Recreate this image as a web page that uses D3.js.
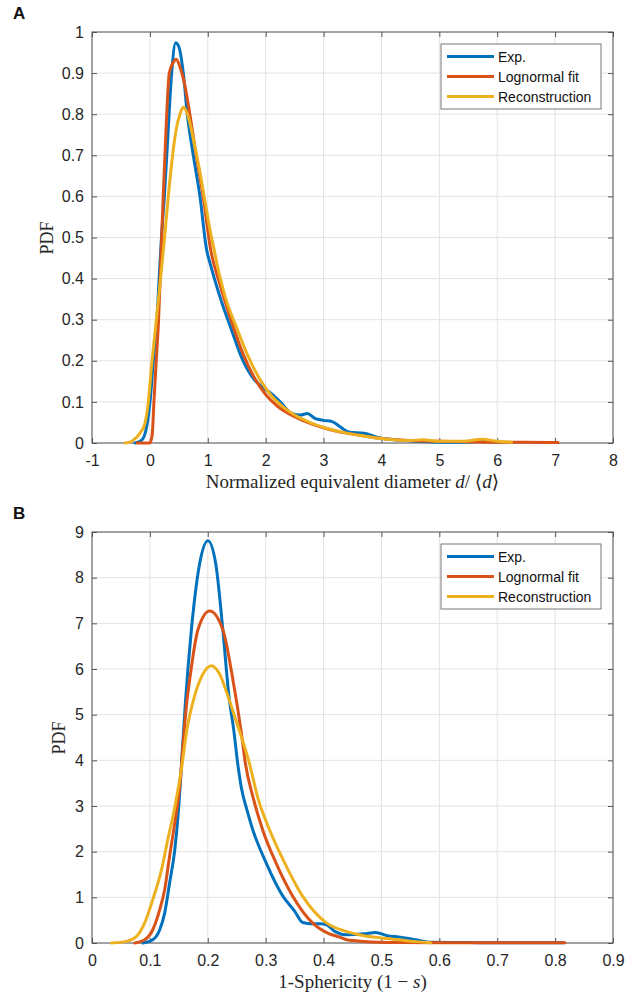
<!DOCTYPE html>
<html>
<head>
<meta charset="utf-8">
<script src="https://cdn.jsdelivr.net/npm/d3@7"></script>
<style>
body { margin: 0; background: #fff; }
</style>
</head>
<body>
<div id="chart"></div>
<script>
// ---- data ----
var seriesNames = ['Exp.', 'Lognormal fit', 'Reconstruction'];

// panel A : normalized equivalent diameter
var aTicksX = [-1, 0, 1, 2, 3, 4, 5, 6, 7, 8];
var aTicksY = [0, 0.1, 0.2, 0.3, 0.4, 0.5, 0.6, 0.7, 0.8, 0.9, 1];

var aExpX = [-0.257, -0.14, -0.055, 0.002, 0.06, 0.117, 0.16, 0.2, 0.25, 0.30, 0.376, 0.445, 0.50, 0.577, 0.646, 0.75, 0.865, 0.98, 1.04, 1.21, 1.41, 1.61, 1.8, 1.95, 2.1, 2.25, 2.45, 2.6, 2.72, 2.85, 3.0, 3.15, 3.3, 3.45, 3.7, 3.95, 4.3, 4.65, 5.0, 5.4, 5.8, 6.0];
var aExpY = [0, 0.007, 0.04, 0.1, 0.2, 0.29, 0.4, 0.5, 0.6, 0.72, 0.9, 0.974, 0.964, 0.9, 0.8, 0.7, 0.6, 0.47, 0.437, 0.356, 0.275, 0.2, 0.155, 0.135, 0.12, 0.1, 0.072, 0.068, 0.072, 0.06, 0.055, 0.052, 0.038, 0.026, 0.024, 0.013, 0.007, 0.004, 0.002, 0.002, 0.005, 0.002];

var aFitX = [-0.22, 0.0, 0.04, 0.07, 0.11, 0.15, 0.19, 0.23, 0.278, 0.335, 0.40, 0.456, 0.52, 0.59, 0.69, 0.80, 0.92, 1.05, 1.2, 1.4, 1.6, 1.8, 2.0, 2.2, 2.5, 2.8, 3.1, 3.4, 3.7, 4.0, 4.5, 5.0, 5.5, 6.0, 6.5, 7.05];
var aFitY = [0, 0, 0.02, 0.1, 0.2, 0.3, 0.45, 0.6, 0.76, 0.9, 0.925, 0.934, 0.915, 0.88, 0.8, 0.7, 0.6, 0.47, 0.39, 0.3, 0.22, 0.16, 0.118, 0.09, 0.064, 0.046, 0.033, 0.024, 0.017, 0.011, 0.006, 0.004, 0.003, 0.002, 0.002, 0.001];

var aRecX = [-0.43, -0.35, -0.287, -0.17, -0.085, -0.027, 0.03, 0.09, 0.17, 0.26, 0.318, 0.376, 0.45, 0.52, 0.577, 0.65, 0.75, 0.85, 0.95, 1.05, 1.11, 1.2, 1.3, 1.5, 1.7, 1.9, 2.1, 2.3, 2.5, 2.8, 3.1, 3.4, 3.7, 4.0, 4.5, 4.7, 5.0, 5.4, 5.75, 6.0, 6.25];
var aRecY = [0, 0.002, 0.007, 0.024, 0.048, 0.1, 0.19, 0.27, 0.38, 0.51, 0.6, 0.68, 0.76, 0.80, 0.817, 0.8, 0.74, 0.67, 0.59, 0.51, 0.47, 0.41, 0.356, 0.28, 0.21, 0.155, 0.115, 0.088, 0.068, 0.048, 0.034, 0.024, 0.017, 0.011, 0.006, 0.008, 0.004, 0.004, 0.009, 0.004, 0.002];

// panel B : 1 - sphericity
var bTicksX = [0, 0.1, 0.2, 0.3, 0.4, 0.5, 0.6, 0.7, 0.8, 0.9];
var bTicksY = [0, 1, 2, 3, 4, 5, 6, 7, 8, 9];

var bExpX = [0.088, 0.105, 0.117, 0.1256, 0.134, 0.143, 0.15, 0.1555, 0.161, 0.1717, 0.186, 0.2003, 0.2137, 0.226, 0.2366, 0.245, 0.252, 0.258, 0.268, 0.278, 0.301, 0.33, 0.35, 0.364, 0.38, 0.395, 0.405, 0.42, 0.44, 0.47, 0.49, 0.51, 0.53, 0.56, 0.585, 0.65, 0.7, 0.8, 0.815];
var bExpY = [0, 0.07, 0.29, 0.66, 1.31, 2.04, 3.0, 4.1, 5.2, 6.86, 8.31, 8.81, 8.31, 6.86, 5.4, 4.65, 3.9, 3.4, 2.9, 2.47, 1.75, 1.02, 0.7, 0.45, 0.42, 0.42, 0.4, 0.25, 0.18, 0.2, 0.23, 0.16, 0.13, 0.07, 0.015, 0.01, 0.003, 0.008, 0.003];

var bFitX = [0.0737, 0.091, 0.105, 0.117, 0.1256, 0.134, 0.143, 0.1515, 0.158, 0.163, 0.1687, 0.183, 0.2033, 0.226, 0.2435, 0.258, 0.265, 0.278, 0.295, 0.318, 0.347, 0.381, 0.41, 0.428, 0.44, 0.47, 0.53, 0.6, 0.817];
var bFitY = [0, 0.07, 0.29, 0.73, 1.17, 1.9, 2.63, 3.43, 4.45, 5.18, 5.76, 6.86, 7.27, 6.86, 5.76, 4.6, 3.93, 3.2, 2.47, 1.75, 1.02, 0.44, 0.2, 0.13, 0.07, 0.035, 0.01, 0.004, 0.003];

var bRecX = [0.0335, 0.059, 0.077, 0.091, 0.105, 0.12, 0.131, 0.14, 0.1486, 0.155, 0.163, 0.177, 0.19, 0.206, 0.22, 0.235, 0.248, 0.261, 0.272, 0.286, 0.307, 0.333, 0.364, 0.405, 0.44, 0.47, 0.50, 0.53, 0.56, 0.585];
var bRecY = [0, 0.036, 0.146, 0.44, 0.95, 1.6, 2.27, 2.78, 3.36, 3.85, 4.6, 5.4, 5.85, 6.07, 5.9, 5.4, 4.9, 4.4, 3.93, 3.2, 2.47, 1.75, 1.02, 0.44, 0.25, 0.16, 0.11, 0.07, 0.03, 0.005];

var colors = ['#0072BD', '#D95319', '#EDB120'];

var W = 643, H = 994;
var svg = d3.select('#chart').append('svg')
	.attr('width', W)
	.attr('height', H)
	.style('font-family', 'Arial, "Liberation Sans", sans-serif');

function zip(xs, ys) {
	return xs.map(function(x, i) { return [x, ys[i]]; });
}

function drawPanel(cfg) {
	var left = 92, right = 613, top = cfg.top, bottom = cfg.top + 411;

	var x = d3.scaleLinear().domain(cfg.xDomain).range([left, right]);
	var y = d3.scaleLinear().domain(cfg.yDomain).range([bottom, top]);

	var g = svg.append('g');

	// grid
	g.selectAll('.gx').data(cfg.xTicks).enter().append('line')
		.attr('x1', function(d){ return x(d) }).attr('x2', function(d){ return x(d) })
		.attr('y1', top).attr('y2', bottom)
		.attr('stroke', '#e3e3e3').attr('stroke-width', 1);
	g.selectAll('.gy').data(cfg.yTicks).enter().append('line')
		.attr('y1', function(d){ return y(d) }).attr('y2', function(d){ return y(d) })
		.attr('x1', left).attr('x2', right)
		.attr('stroke', '#e3e3e3').attr('stroke-width', 1);

	// axes with inward ticks on all four sides
	var fmt = function(d){ return String(+d.toFixed(2)); };
	g.append('g').attr('transform', 'translate(0,' + bottom + ')')
		.call(d3.axisBottom(x).tickValues(cfg.xTicks).tickFormat(fmt).tickSizeInner(-5).tickSizeOuter(0).tickPadding(12));
	g.append('g').attr('transform', 'translate(' + left + ',0)')
		.call(d3.axisLeft(y).tickValues(cfg.yTicks).tickFormat(fmt).tickSizeInner(-5).tickSizeOuter(0).tickPadding(8));
	g.append('g').attr('transform', 'translate(0,' + top + ')')
		.call(d3.axisTop(x).tickValues(cfg.xTicks).tickFormat('').tickSizeInner(-5).tickSizeOuter(0));
	g.append('g').attr('transform', 'translate(' + right + ',0)')
		.call(d3.axisRight(y).tickValues(cfg.yTicks).tickFormat('').tickSizeInner(-5).tickSizeOuter(0));

	g.selectAll('.domain').remove();
	g.selectAll('.tick line').attr('stroke', '#555');
	g.selectAll('.tick text')
		.attr('fill', '#262626')
		.style('font-size', '16px')
		.style('font-family', 'Arial, "Liberation Sans", sans-serif');

	g.append('rect')
		.attr('x', left).attr('y', top)
		.attr('width', right - left).attr('height', bottom - top)
		.attr('fill', 'none').attr('stroke', '#555').attr('stroke-width', 1);

	// curves
	var line = d3.line()
		.x(function(d){ return x(d[0]) })
		.y(function(d){ return y(d[1]) })
		.curve(d3.curveMonotoneX);

	cfg.series.forEach(function(s, i) {
		g.append('path')
			.attr('d', line(s))
			.attr('fill', 'none')
			.attr('stroke', colors[i])
			.attr('stroke-width', 3)
			.attr('stroke-linejoin', 'round')
			.attr('stroke-linecap', 'round');
	});

	// legend
	var lg = g.append('g').attr('transform', 'translate(441,' + (top + 12) + ')');
	lg.append('rect')
		.attr('width', 160).attr('height', 65)
		.attr('fill', '#fff').attr('stroke', '#777').attr('stroke-width', 1);
	seriesNames.forEach(function(name, i) {
		var yy = 12.5 + i * 20;
		lg.append('line')
			.attr('x1', 6).attr('x2', 53).attr('y1', yy).attr('y2', yy)
			.attr('stroke', colors[i]).attr('stroke-width', 3);
		lg.append('text')
			.attr('x', 57).attr('y', yy + 5)
			.attr('fill', '#111')
			.style('font-size', '14px')
			.text(name);
	});

	// y label (sits just left of the widest tick label)
	svg.append('text')
		.attr('transform', 'translate(' + cfg.yLabelX + ',' + (top + 206) + ') rotate(-90)')
		.attr('text-anchor', 'middle')
		.style('font-family', '"Liberation Serif", "DejaVu Serif", serif')
		.style('font-size', '18px')
		.attr('fill', '#262626')
		.text('PDF');

	// x label
	var xl = svg.append('text')
		.attr('x', (left + right) / 2)
		.attr('y', bottom + 45)
		.attr('text-anchor', 'middle')
		.style('font-family', '"Liberation Serif", "DejaVu Serif", serif')
		.style('font-size', '19px')
		.attr('fill', '#262626');
	cfg.xLabel.forEach(function(part) {
		xl.append('tspan')
			.style('font-style', part[1] ? 'italic' : 'normal')
			.text(part[0]);
	});

	// panel letter
	svg.append('text')
		.attr('x', 13).attr('y', top - 13)
		.style('font-size', '17px')
		.style('font-weight', 'bold')
		.attr('fill', '#111')
		.text(cfg.letter);
}

drawPanel({
	top: 32,
	xDomain: [-1, 8],
	yDomain: [0, 1],
	xTicks: aTicksX,
	yTicks: aTicksY,
	series: [zip(aExpX, aExpY), zip(aFitX, aFitY), zip(aRecX, aRecY)],
	xLabel: [['Normalized equivalent diameter ', false], ['d', true], ['/ \u27E8', false], ['d', true], ['\u27E9', false]],
	yLabelX: 53,
	letter: 'A'
});

drawPanel({
	top: 532,
	xDomain: [0, 0.9],
	yDomain: [0, 9],
	xTicks: bTicksX,
	yTicks: bTicksY,
	series: [zip(bExpX, bExpY), zip(bFitX, bFitY), zip(bRecX, bRecY)],
	xLabel: [['1-Sphericity (1 \u2212 ', false], ['s', true], [')', false]],
	yLabelX: 65,
	letter: 'B'
});
</script>
</body>
</html>
